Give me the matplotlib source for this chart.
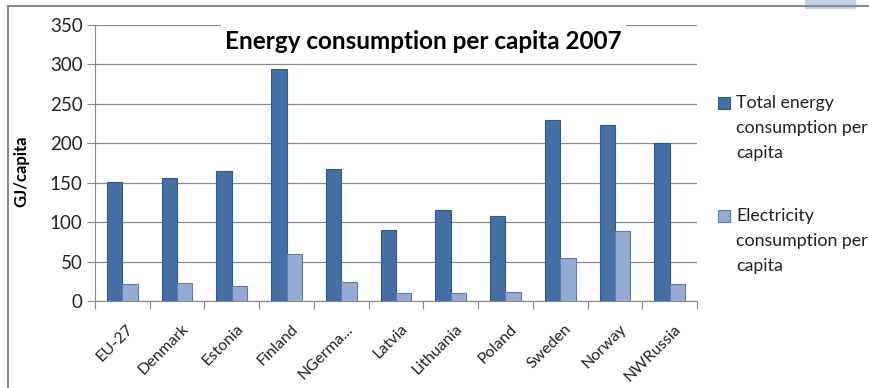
import matplotlib.pyplot as plt
import numpy as np
from matplotlib.lines import Line2D
from matplotlib.patches import Rectangle

# Podaci procitani sa grafika
COUNTRIES = ["EU-27", "Denmark", "Estonia", "Finland", "NGerma...", "Latvia",
             "Lithuania", "Poland", "Sweden", "Norway", "NWRussia"]
TOTAL_ENERGY = [151, 156, 165, 294, 168, 90, 115, 108, 229, 223, 200]
ELECTRICITY = [21, 23, 19, 60, 24, 10, 10, 12, 54, 89, 22]
SERIES_LABELS = ["Total energy\nconsumption per\ncapita",
                 "Electricity\nconsumption per\ncapita"]
Y_TICKS = [0, 50, 100, 150, 200, 250, 300, 350]

DARK = "#4470A6"
LIGHT = "#95AAD1"
FONT = ["Lato", "DejaVu Sans"]

plt.rcParams["font.family"] = FONT

fig = plt.figure(figsize=(8.69, 3.88), dpi=100)
W, H = 869, 388
ax = fig.add_axes([95 / W, 1 - 301 / H, (697 - 95) / W, (301 - 25) / H])

x = np.arange(len(COUNTRIES))
bar_width = 0.28
ax.bar(x - bar_width / 2, TOTAL_ENERGY, width=bar_width, color=DARK,
       edgecolor="#345888", linewidth=0.8, zorder=3)
ax.bar(x + bar_width / 2, ELECTRICITY, width=bar_width, color=LIGHT,
       edgecolor="#5F7DB0", linewidth=0.8, zorder=3)

ax.set_xlim(-0.5, len(COUNTRIES) - 0.5)
ax.set_ylim(0, 350)
ax.set_yticks(Y_TICKS)
ax.tick_params(axis="y", labelsize=13.5, length=6, color="#888888", pad=3,
               labelcolor="#222222")
ax.yaxis.grid(True, color="#8c8c8c", linewidth=0.9, zorder=0)
for side in ["top", "right"]:
    ax.spines[side].set_visible(False)
for side in ["left", "bottom"]:
    ax.spines[side].set_color("#888888")

# oznake ispod ose na granicama kategorija
ax.set_xticks(np.arange(len(COUNTRIES) + 1) - 0.5)
ax.set_xticklabels([])
ax.tick_params(axis="x", length=6, color="#888888")
for pos, name in zip(x, COUNTRIES):
    ax.annotate(name, xy=(pos, 0), xycoords=("data", "axes fraction"),
                xytext=(3, -15), textcoords="offset points", rotation=45,
                ha="right", va="top", rotation_mode="anchor", fontsize=11.5,
                color="#222222")

ax.set_ylabel("GJ/capita", fontsize=12, fontweight="bold")
ax.yaxis.set_label_coords(-66 / 602, 0.47)

ax.text(0.545, 0.942, "Energy consumption per capita 2007",
        transform=ax.transAxes, ha="center", va="center", fontsize=17.5,
        fontweight="bold",
        bbox=dict(facecolor="white", edgecolor="none", pad=3), zorder=5)

# legenda crtana rucno da bi razmak redova bio kao na originalu
legend_items = [(SERIES_LABELS[0], DARK, "#345888", 97),
                (SERIES_LABELS[1], LIGHT, "#5F7DB0", 210)]
for label, face, edge, top in legend_items:
    fig.add_artist(Rectangle((718 / W, 1 - (top + 12) / H), 12 / W, 12 / H,
                             facecolor=face, edgecolor=edge, linewidth=0.8,
                             transform=fig.transFigure))
    fig.text(736 / W, 1 - (top - 2) / H, label, ha="left", va="top",
             fontsize=12.8, linespacing=1.68, color="#222222")

# okvir grafikona
fig.add_artist(Line2D([8 / W, 8 / W], [0, 1 - 6 / H], color="#8a8a8a",
                      linewidth=1.5, transform=fig.transFigure))
fig.add_artist(Line2D([8 / W, 1], [1 - 6 / H, 1 - 6 / H], color="#8a8a8a",
                      linewidth=1.5, transform=fig.transFigure))
fig.add_artist(Rectangle((805 / W, 1 - 8 / H), 50 / W, 8 / H,
                         color="#c3d3e6", transform=fig.transFigure))

fig.savefig("out.png", dpi=100)
